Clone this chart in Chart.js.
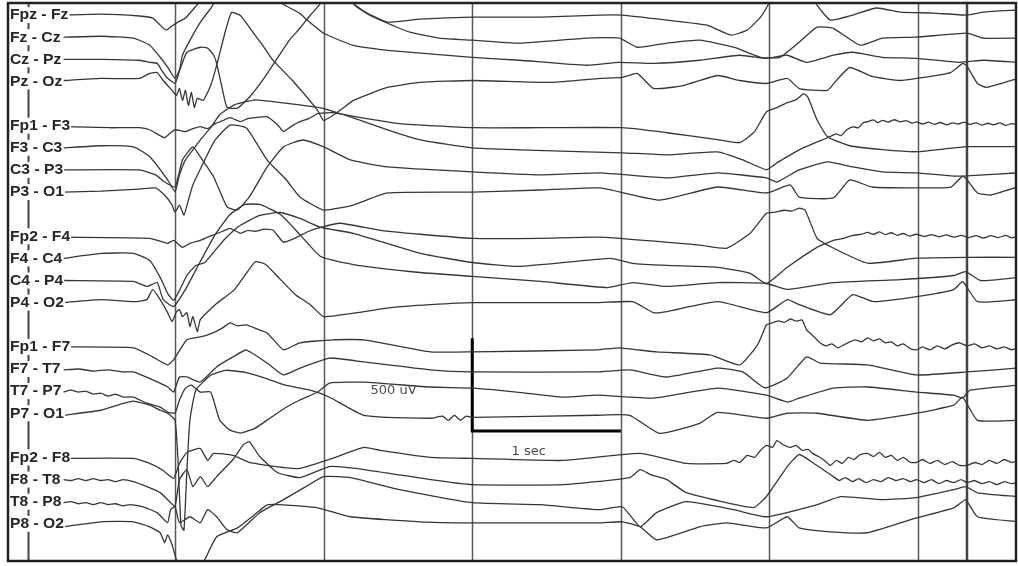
<!DOCTYPE html>
<html>
<head>
<meta charset="utf-8">
<script src="https://cdn.jsdelivr.net/npm/chart.js@4.4.0/dist/chart.umd.min.js"></script>
<style>
  html, body { margin: 0; padding: 0; background: #fff; }
</style>
</head>
<body>
<canvas id="eeg" width="1018" height="566"></canvas>
<script>
// bipolar montage, top to bottom
const channels = [
  'Fpz - Fz', 'Fz - Cz', 'Cz - Pz', 'Pz - Oz',
  'Fp1 - F3', 'F3 - C3', 'C3 - P3', 'P3 - O1',
  'Fp2 - F4', 'F4 - C4', 'C4 - P4', 'P4 - O2',
  'Fp1 - F7', 'F7 - T7', 'T7 - P7', 'P7 - O1',
  'Fp2 - F8', 'F8 - T8', 'T8 - P8', 'P8 - O2'
];
// row of each channel, one blank row between chains
const rows = [0, 1, 2, 3, 5, 6, 7, 8, 10, 11, 12, 13, 15, 16, 17, 18, 20, 21, 22, 23];
const ROW_UV = 119;

// page markers (seconds) and the event marker
const secondMarks = [1, 2, 3, 4, 5, 6];
const eventMarks = [6.33];

// traces: [time s, deflection uV]
const fpzFz = [[0.25,0],[0.5,5],[0.76,-5],[0.85,-16],[0.9,-54],[0.94,-81],[0.98,-59],[1.02,-38],[1.07,-16],[1.13,38],[1.2,108],[1.27,190],[2.11,190],[2.19,70],[2.28,16],[2.43,-38],[2.65,-22],[3.0,-11],[3.46,-11],[3.86,0],[4.01,0],[4.31,-27],[4.58,-54],[4.74,-108],[4.85,-81],[4.94,-11],[4.99,54],[5.04,135],[5.27,135],[5.32,54],[5.41,-27],[5.56,0],[5.72,38],[5.88,16],[6.1,11],[6.33,0],[6.44,16],[6.67,27]];
const fzCz = [[0.25,0],[0.5,5],[0.72,-5],[0.83,-43],[0.9,-108],[0.95,-161],[1.0,-221],[1.03,-178],[1.08,-81],[1.17,-54],[1.22,-59],[1.26,-97],[1.28,-140],[1.32,-285],[1.35,-377],[1.42,-382],[1.5,-323],[1.59,-231],[1.67,-135],[1.77,-16],[1.84,48],[1.91,118],[1.98,183],[2.04,280],[2.14,280],[2.21,172],[2.31,118],[2.43,75],[2.58,27],[2.78,-5],[3.0,-16],[3.32,-32],[3.77,-5],[3.99,-5],[4.11,-54],[4.31,-32],[4.53,-16],[4.76,-54],[4.94,-108],[5.07,-108],[5.2,-27],[5.32,54],[5.43,48],[5.61,-43],[5.76,-5],[5.99,0],[6.33,22],[6.44,-5],[6.67,-5]];
const czPz = [[0.25,0],[0.5,0],[0.76,-5],[0.83,-16],[0.88,-22],[0.91,-59],[0.95,-102],[1.0,-129],[1.03,-59],[1.05,22],[1.1,102],[1.17,199],[1.24,274],[1.3,344],[1.67,371],[1.72,301],[1.84,247],[1.89,210],[2.0,140],[2.2,75],[2.43,48],[3.0,11],[3.32,-5],[3.77,-32],[3.99,-16],[4.22,-22],[4.53,-5],[4.8,22],[4.98,5],[5.12,22],[5.25,-16],[5.43,22],[5.56,38],[5.76,11],[5.99,5],[6.28,-16],[6.44,-5],[6.67,-16]];
const pzOz = [[0.25,5],[0.5,16],[0.76,16],[0.83,43],[0.88,48],[0.92,5],[0.98,-48],[1.01,-75],[1.03,-38],[1.05,-102],[1.07,-48],[1.09,-129],[1.11,-59],[1.13,-140],[1.15,-91],[1.19,-102],[1.24,-22],[1.28,86],[1.34,274],[1.38,371],[1.44,355],[1.5,291],[1.59,194],[1.66,113],[1.79,5],[1.96,-156],[2.0,-210],[2.11,-156],[2.2,-102],[2.43,-32],[2.65,-5],[3.0,5],[3.54,-5],[3.86,16],[4.01,22],[4.11,43],[4.22,-38],[4.42,-22],[4.65,32],[4.8,5],[4.98,-11],[5.12,16],[5.2,-38],[5.39,-48],[5.45,5],[5.54,75],[5.69,27],[5.88,5],[5.99,16],[6.22,48],[6.3,97],[6.33,81],[6.4,-11],[6.46,-32],[6.67,16]];
const fp1F3 = [[0.25,-5],[0.56,-11],[0.76,-11],[0.83,-22],[0.9,-54],[0.93,-65],[0.97,-38],[1.0,-22],[1.07,-32],[1.12,-16],[1.17,-5],[1.22,-16],[1.27,11],[1.32,27],[1.37,43],[1.44,22],[1.49,38],[1.54,43],[1.62,48],[1.69,5],[1.73,-32],[1.78,-5],[1.84,22],[1.9,38],[1.96,65],[2.06,70],[2.25,43],[2.51,11],[3.0,-11],[3.46,-11],[4.01,-11],[4.31,-38],[4.65,-75],[4.8,-91],[4.9,-32],[4.98,75],[5.05,97],[5.12,124],[5.18,140],[5.23,172],[5.26,151],[5.32,32],[5.39,-59],[5.54,-108],[5.76,-129],[5.99,-140],[6.33,-113],[6.67,-113]];
const f3C3 = [[0.25,0],[0.5,11],[0.72,5],[0.83,-48],[0.95,-172],[1.0,-237],[1.03,-145],[1.07,-65],[1.12,-11],[1.17,43],[1.24,108],[1.3,178],[1.4,231],[1.54,258],[1.67,247],[1.84,231],[1.98,215],[2.2,161],[2.43,97],[2.65,43],[3.0,0],[3.32,-11],[3.77,-22],[4.01,-27],[4.31,-38],[4.65,-22],[4.82,-65],[4.98,-118],[5.05,-81],[5.2,-11],[5.39,54],[5.45,75],[5.48,65],[5.52,97],[5.56,113],[5.6,108],[5.63,135],[5.66,140],[5.7,150],[5.73,135],[5.76,148],[5.8,138],[5.84,151],[5.88,140],[5.92,146],[5.96,132],[5.99,140],[6.03,128],[6.07,138],[6.11,126],[6.15,136],[6.19,124],[6.23,134],[6.27,128],[6.31,138],[6.35,126],[6.39,134],[6.43,122],[6.47,132],[6.51,124],[6.55,134],[6.59,120],[6.63,130],[6.67,124]];
const c3P3 = [[0.25,0],[0.76,0],[0.87,-27],[0.93,-65],[1.0,-91],[1.05,54],[1.12,124],[1.17,70],[1.26,-38],[1.35,-199],[1.42,-215],[1.5,-145],[1.62,16],[1.73,124],[1.86,161],[2.0,124],[2.18,54],[2.43,16],[3.0,-11],[3.46,-27],[3.86,-16],[4.31,-43],[4.65,-16],[4.98,-43],[5.05,-65],[5.2,0],[5.39,43],[5.56,16],[5.76,-11],[5.99,-16],[6.22,-32],[6.33,-32],[6.67,-16]];
const p3O1 = [[0.25,0],[0.5,5],[0.76,16],[0.87,22],[0.93,-16],[0.98,-70],[1.0,-108],[1.03,-70],[1.06,-124],[1.09,-43],[1.12,38],[1.2,172],[1.27,280],[1.37,360],[1.48,344],[1.62,172],[1.75,65],[1.84,-27],[2.0,-97],[2.2,-70],[2.43,-5],[3.0,0],[3.46,11],[3.86,22],[4.26,-43],[4.65,27],[4.98,-5],[5.14,38],[5.2,-27],[5.43,-32],[5.54,65],[5.69,27],[5.99,22],[6.22,27],[6.3,86],[6.33,65],[6.4,-5],[6.49,-16],[6.67,27]];
const fp2F4 = [[0.25,-5],[0.83,-11],[0.95,-38],[0.99,-22],[1.05,-59],[1.1,-38],[1.17,-22],[1.22,-5],[1.27,11],[1.32,27],[1.37,43],[1.44,16],[1.49,32],[1.54,27],[1.6,38],[1.66,32],[1.73,-32],[1.82,-5],[1.9,27],[1.98,48],[2.11,70],[2.38,32],[2.65,11],[3.0,-11],[3.46,-11],[3.86,-5],[4.53,-48],[4.71,-65],[4.87,16],[4.98,124],[5.04,130],[5.1,140],[5.15,135],[5.2,151],[5.24,140],[5.32,-11],[5.39,-48],[5.66,-145],[5.99,-118],[6.33,-113],[6.67,-113]];
const f4C4 = [[0.25,0],[0.5,27],[0.72,27],[0.83,-11],[0.9,-102],[0.95,-188],[0.99,-226],[1.03,-172],[1.08,-91],[1.14,-38],[1.2,-22],[1.27,43],[1.34,108],[1.44,178],[1.57,231],[1.71,247],[1.84,215],[1.98,167],[2.2,135],[2.65,27],[3.0,-22],[3.32,-43],[3.93,0],[4.08,-27],[4.31,-38],[4.65,-48],[4.87,-81],[4.98,-135],[5.12,-48],[5.32,59],[5.43,97],[5.5,108],[5.56,124],[5.62,130],[5.66,140],[5.7,130],[5.74,143],[5.78,128],[5.82,138],[5.86,124],[5.9,134],[5.94,120],[5.99,130],[6.04,118],[6.09,128],[6.14,116],[6.19,126],[6.24,114],[6.29,124],[6.34,112],[6.39,122],[6.44,110],[6.49,122],[6.54,112],[6.59,124],[6.63,110],[6.67,118]];
const c4P4 = [[0.25,0],[0.72,-5],[0.81,-32],[0.88,-11],[0.92,-102],[0.99,-140],[1.07,-48],[1.17,102],[1.27,247],[1.37,355],[1.47,409],[1.57,409],[1.71,355],[1.84,247],[1.98,129],[2.2,86],[2.65,43],[3.0,22],[3.46,-5],[3.91,-38],[4.08,-11],[4.31,-32],[4.65,-11],[4.98,-16],[5.12,-48],[5.43,-11],[5.88,5],[6.24,27],[6.32,48],[6.42,0],[6.67,16]];
const p4O2 = [[0.25,0],[0.5,16],[0.72,5],[0.81,16],[0.85,70],[0.9,16],[0.95,-54],[0.98,-102],[1.01,-48],[1.03,-38],[1.05,-75],[1.08,-54],[1.1,-129],[1.12,-75],[1.15,-156],[1.17,-91],[1.27,-11],[1.4,70],[1.54,220],[1.61,205],[1.71,124],[1.81,43],[1.91,-11],[2.0,-75],[2.18,-59],[2.45,-27],[2.72,-11],[3.0,0],[3.84,0],[4.08,5],[4.22,-54],[4.31,-48],[4.65,5],[4.98,-54],[5.12,16],[5.2,-11],[5.41,-65],[5.56,43],[5.7,5],[5.99,32],[6.24,70],[6.3,113],[6.4,5],[6.67,16]];
const fp1F7 = [[0.25,0],[0.72,-5],[0.85,-54],[0.95,-97],[0.99,-70],[1.08,38],[1.17,54],[1.22,65],[1.27,81],[1.32,102],[1.37,129],[1.42,113],[1.48,118],[1.55,97],[1.62,75],[1.73,-16],[1.84,22],[2.06,38],[2.27,38],[2.72,-27],[3.0,-27],[3.84,-16],[3.99,-5],[4.24,-27],[4.6,-43],[4.8,-97],[4.92,11],[4.98,118],[5.02,130],[5.06,140],[5.1,132],[5.14,150],[5.18,138],[5.22,145],[5.25,91],[5.3,54],[5.34,22],[5.38,5],[5.42,16],[5.46,-5],[5.5,11],[5.54,27],[5.58,38],[5.62,27],[5.66,48],[5.7,32],[5.74,43],[5.78,22],[5.82,27],[5.86,5],[5.9,16],[5.95,-11],[5.99,-16],[6.03,0],[6.08,-16],[6.13,5],[6.18,-11],[6.23,11],[6.28,22],[6.33,5],[6.38,16],[6.43,-5],[6.48,5],[6.53,-11],[6.58,0],[6.63,-16],[6.67,-5]];
const f7T7 = [[0.25,-5],[0.35,0],[0.45,-11],[0.55,-5],[0.65,-16],[0.72,-16],[0.85,-59],[0.95,-97],[0.99,-124],[1.03,-43],[1.08,-43],[1.17,-70],[1.28,11],[1.39,65],[1.48,102],[1.62,32],[1.73,-32],[1.84,5],[2.04,59],[2.27,38],[2.72,-5],[3.0,-16],[3.84,-16],[4.06,-5],[4.31,-43],[4.65,5],[4.82,-16],[4.97,-102],[5.12,-48],[5.25,65],[5.34,32],[5.66,22],[5.99,-32],[6.33,-16],[6.67,5]];
const t7P7 = [[0.25,-5],[0.3,5],[0.35,-5],[0.4,0],[0.45,-16],[0.5,-11],[0.55,-27],[0.6,-16],[0.65,-32],[0.72,-32],[0.81,-65],[0.9,-86],[0.95,-113],[1.0,-118],[1.03,-48],[1.07,16],[1.11,32],[1.17,-5],[1.24,-5],[1.3,-156],[1.37,-210],[1.44,-226],[1.54,-199],[1.64,-145],[1.74,-91],[1.84,-48],[1.96,-5],[2.04,43],[2.27,48],[2.72,22],[3.0,16],[3.3,-5],[3.61,-32],[3.84,-22],[4.22,-38],[4.65,16],[4.98,-22],[5.12,-59],[5.2,-38],[5.43,16],[5.66,22],[5.99,-5],[6.24,-22],[6.3,-38],[6.35,5],[6.67,32]];
const p7O1 = [[0.25,-11],[0.5,16],[0.63,48],[0.72,65],[0.83,43],[0.9,16],[0.95,0],[1.0,-38],[1.02,-253],[1.04,-603],[1.06,-630],[1.08,-307],[1.1,-38],[1.14,124],[1.24,204],[1.34,231],[1.47,220],[1.61,188],[1.74,151],[1.91,124],[2.04,86],[2.27,-11],[2.72,-27],[2.8,-16],[2.84,-38],[2.88,-11],[2.92,-38],[2.96,-16],[3.0,-22],[3.84,-11],[4.06,-11],[4.26,-108],[4.53,-54],[4.65,5],[4.98,-27],[5.12,0],[5.32,0],[5.66,-38],[5.99,0],[6.24,43],[6.3,86],[6.4,-38],[6.67,-38]];
const fp2F8 = [[0.25,-5],[0.72,-5],[0.83,-32],[0.92,-70],[0.99,-113],[1.03,-32],[1.08,27],[1.17,48],[1.22,-16],[1.26,22],[1.39,11],[1.5,-27],[1.62,-43],[1.73,-54],[1.84,-59],[2.06,-5],[2.27,54],[2.38,38],[2.72,0],[3.0,-5],[3.61,-16],[4.13,22],[4.44,-32],[4.71,-32],[4.76,-16],[4.8,-27],[4.85,11],[4.9,0],[4.94,38],[4.98,65],[5.02,54],[5.05,91],[5.09,70],[5.14,54],[5.18,65],[5.22,38],[5.26,43],[5.29,22],[5.33,5],[5.37,-16],[5.41,-43],[5.45,-16],[5.49,-32],[5.53,0],[5.57,-11],[5.61,16],[5.66,22],[5.7,5],[5.74,27],[5.78,0],[5.82,11],[5.86,-16],[5.9,0],[5.95,-27],[5.99,-27],[6.03,-11],[6.08,-32],[6.13,-16],[6.18,-38],[6.23,-22],[6.28,-43],[6.33,-43],[6.38,-27],[6.43,-38],[6.48,-16],[6.53,-32],[6.58,-11],[6.63,-27],[6.67,-16]];
const f8T8 = [[0.25,0],[0.3,-5],[0.35,5],[0.4,-5],[0.45,5],[0.5,-5],[0.55,0],[0.6,-11],[0.65,0],[0.72,-11],[0.81,-38],[0.9,-70],[0.97,-124],[1.0,-145],[1.03,0],[1.08,54],[1.12,-38],[1.17,16],[1.22,-38],[1.28,16],[1.39,108],[1.46,188],[1.5,204],[1.57,124],[1.69,38],[1.84,11],[2.04,70],[2.27,54],[2.72,0],[3.0,-27],[3.61,-27],[4.06,11],[4.13,54],[4.2,27],[4.31,0],[4.44,-70],[4.89,-151],[4.98,-91],[5.12,70],[5.2,135],[5.31,81],[5.43,16],[5.47,-5],[5.51,11],[5.56,-11],[5.6,5],[5.65,-16],[5.7,0],[5.75,-11],[5.8,11],[5.85,-5],[5.9,5],[5.95,-11],[5.99,0],[6.04,-16],[6.09,0],[6.14,-22],[6.19,-5],[6.24,-16],[6.29,0],[6.33,-16],[6.38,-5],[6.43,-22],[6.48,-11],[6.53,-27],[6.58,-11],[6.63,-22],[6.67,-16]];
const t8P8 = [[0.25,-5],[0.3,0],[0.35,-11],[0.4,-5],[0.45,-16],[0.5,-5],[0.55,-16],[0.6,-11],[0.65,-22],[0.7,-16],[0.78,-27],[0.88,-59],[0.95,-113],[0.97,-43],[1.0,-27],[1.03,-113],[1.1,-81],[1.17,-113],[1.22,-43],[1.28,-81],[1.35,-151],[1.42,-167],[1.57,-59],[1.73,11],[1.88,81],[2.0,135],[2.18,129],[2.51,65],[3.0,-5],[3.46,-16],[3.86,-43],[4.01,-27],[4.13,-135],[4.24,-59],[4.44,0],[4.76,-43],[4.98,-81],[5.32,-16],[5.48,27],[5.76,11],[5.99,22],[6.24,65],[6.32,81],[6.4,48],[6.67,27]];
const p8O2 = [[0.25,-16],[0.5,11],[0.72,11],[0.83,-16],[0.9,-48],[0.93,-102],[0.95,-59],[0.98,-113],[1.01,-194],[1.07,-274],[1.14,-274],[1.2,-194],[1.28,-70],[1.42,-22],[1.55,59],[1.62,102],[1.73,102],[1.96,86],[2.18,38],[2.65,11],[3.0,5],[3.46,5],[3.86,5],[4.01,11],[4.13,-16],[4.24,-86],[4.53,-16],[4.71,5],[4.98,-22],[5.12,38],[5.2,-22],[5.41,-43],[5.66,-48],[5.99,32],[6.24,86],[6.32,129],[6.4,38],[6.67,11]];

const traces = [fpzFz, fzCz, czPz, pzOz, fp1F3, f3C3, c3P3, p3O1, fp2F4, f4C4, c4P4, p4O2,
  fp1F7, f7T7, t7P7, p7O1, fp2F8, f8T8, t8P8, p8O2];

// calibration: 500 uV by 1 sec, corner at 3 s
const calUV = 500;
const calSec = 1;
const calCorner = [3, -2238];
const notes = [
  { text: '500 uV', t: 2.47, uv: -2023 },
  { text: '1 sec', t: 3.38, uv: -2351 }
];

const datasets = traces.map((pts, i) => ({
  label: channels[i],
  data: pts.map(([t, v]) => ({ x: t, y: v - rows[i] * ROW_UV })),
  borderColor: '#363636',
  borderWidth: 1.3,
  pointRadius: 0,
  tension: 0.15,
  fill: false
}));

datasets.push({
  label: 'cal',
  data: [
    { x: calCorner[0], y: calCorner[1] + calUV },
    { x: calCorner[0], y: calCorner[1] },
    { x: calCorner[0] + calSec, y: calCorner[1] }
  ],
  borderColor: '#000',
  borderWidth: 3,
  pointRadius: 0,
  tension: 0
});

const eegDecor = {
  id: 'eegDecor',
  beforeDatasetsDraw(chart) {
    const { ctx, chartArea: a, scales: { x } } = chart;
    ctx.save();
    secondMarks.forEach(t => {
      const px = Math.round(x.getPixelForValue(t)) + 0.5;
      ctx.strokeStyle = '#5a5a5a';
      ctx.lineWidth = 1.5;
      ctx.beginPath();
      ctx.moveTo(px, a.top);
      ctx.lineTo(px, a.bottom);
      ctx.stroke();
    });
    eventMarks.forEach(t => {
      const px = Math.round(x.getPixelForValue(t));
      ctx.strokeStyle = '#444';
      ctx.lineWidth = 2.5;
      ctx.beginPath();
      ctx.moveTo(px, a.top);
      ctx.lineTo(px, a.bottom);
      ctx.stroke();
    });
    ctx.restore();
  },
  afterDatasetsDraw(chart) {
    const { ctx, chartArea: a, scales: { x, y } } = chart;
    ctx.save();
    // montage bar, shows between the label boxes
    const bx = Math.round(x.getPixelForValue(0.01)) + 0.5;
    ctx.strokeStyle = '#444';
    ctx.lineWidth = 2;
    ctx.beginPath();
    ctx.moveTo(bx, a.top);
    ctx.lineTo(bx, a.bottom);
    ctx.stroke();

    ctx.font = 'bold 14px "Liberation Sans", Arial, sans-serif';
    ctx.textBaseline = 'middle';
    const stretch = 1.12;
    channels.forEach((name, i) => {
      const py = y.getPixelForValue(-rows[i] * ROW_UV);
      const w = ctx.measureText(name).width * stretch;
      ctx.fillStyle = '#fff';
      ctx.fillRect(a.left + 1, py - 8, w + 2, 16);
      ctx.fillStyle = '#262626';
      ctx.save();
      ctx.translate(a.left + 2, py + 0.5);
      ctx.scale(stretch, 1);
      ctx.fillText(name, 0, 0);
      ctx.restore();
    });

    ctx.font = '13px "DejaVu Sans", sans-serif';
    ctx.fillStyle = '#4a4a4a';
    ctx.textAlign = 'center';
    notes.forEach(n => {
      ctx.fillText(n.text, x.getPixelForValue(n.t), y.getPixelForValue(n.uv));
    });

    ctx.strokeStyle = '#222';
    ctx.lineWidth = 2.5;
    ctx.strokeRect(a.left, a.top, a.right - a.left, a.bottom - a.top);
    ctx.restore();
  }
};

new Chart(document.getElementById('eeg'), {
  type: 'line',
  data: { datasets },
  options: {
    responsive: false,
    animation: false,
    events: [],
    layout: { padding: { left: 8, right: 2, top: 3, bottom: 5 } },
    plugins: { legend: { display: false }, tooltip: { enabled: false } },
    scales: {
      x: { type: 'linear', min: -0.124, max: 6.659, display: false },
      y: { type: 'linear', min: -2937, max: 65, display: false }
    }
  },
  plugins: [eegDecor]
});
</script>
</body>
</html>
